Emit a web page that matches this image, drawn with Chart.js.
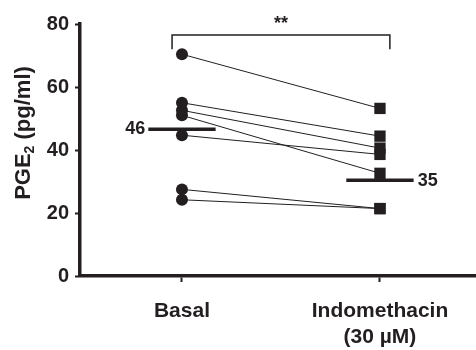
<!DOCTYPE html>
<html>
<head>
<meta charset="utf-8">
<script src="https://cdn.jsdelivr.net/npm/chart.js@4.4.1/dist/chart.umd.min.js"></script>
<style>
  html, body { margin: 0; padding: 0; background: #fff; }
  #wrap { position: relative; width: 476px; height: 350px; }
</style>
</head>
<body>
<div id="wrap"><canvas id="chart"></canvas></div>
<script>
/* ── data ── */
var categories = [['Basal'], ['Indomethacin', '(30 \u00b5M)']];
var basalValues = [70.4, 55.0, 52.6, 51.0, 44.7, 27.5, 24.2];
var indoValues  = [53.2, 44.4, 40.6, 32.6, 38.6, 21.4, 21.4];
var meanValues  = [46.6, 30.4];          // where the mean bars sit
var meanLabels  = ['46', '35'];          // printed numbers
var yTicks      = [0, 20, 40, 60, 80];
var sigLabel    = '**';
var sigBracket  = [76.5, 72];            // bracket top, leg end (data units)

var INK = '#231f20';
var FONT = '"Liberation Sans", Arial, Helvetica, sans-serif';

/* one dataset per paired sample */
var datasets = basalValues.map(function(b, i){
  return {
    data: [{x: 0, y: b}, {x: 1, y: indoValues[i]}],
    showLine: true,
    borderColor: INK,
    borderWidth: 1,
    backgroundColor: INK,
    pointBackgroundColor: INK,
    pointBorderWidth: 0,
    pointStyle: ['circle', 'rect'],
    pointRadius: [6, 8],
    order: 1
  };
});

/* mean bars */
var HALF = 0.17;
meanValues.forEach(function(m, i){
  datasets.push({
    data: [{x: i - HALF, y: m}, {x: i + HALF, y: m}],
    showLine: true,
    borderColor: INK,
    borderWidth: 3.5,
    pointRadius: 0,
    order: 2
  });
});

var annotate = {
  id: 'annotate',
  afterDatasetsDraw: function(chart){
    var ctx = chart.ctx, xs = chart.scales.x, ys = chart.scales.y;
    ctx.save();
    ctx.fillStyle = INK;
    ctx.strokeStyle = INK;

    // mean labels
    ctx.font = 'bold 18px ' + FONT;
    ctx.textBaseline = 'middle';
    ctx.textAlign = 'right';
    ctx.fillText(meanLabels[0], xs.getPixelForValue(0 - HALF) - 3, ys.getPixelForValue(meanValues[0]));
    ctx.textAlign = 'left';
    ctx.fillText(meanLabels[1], xs.getPixelForValue(1 + HALF) + 4, ys.getPixelForValue(meanValues[1]) + 1);

    // significance bracket
    var x0 = xs.getPixelForValue(-0.05), x1 = xs.getPixelForValue(1.05);
    var yt = ys.getPixelForValue(sigBracket[0]), yl = ys.getPixelForValue(sigBracket[1]);
    ctx.lineWidth = 1.5;
    ctx.beginPath();
    ctx.moveTo(x0, yl); ctx.lineTo(x0, yt); ctx.lineTo(x1, yt); ctx.lineTo(x1, yl);
    ctx.stroke();
    ctx.font = 'bold 18px ' + FONT;
    ctx.textAlign = 'center';
    ctx.textBaseline = 'middle';
    ctx.fillText(sigLabel, (x0 + x1) / 2, yt - 11);

    // y axis title with subscript
    ctx.translate(24, 133);
    ctx.rotate(-Math.PI / 2);
    ctx.textBaseline = 'middle';
    ctx.textAlign = 'left';
    var big = 'bold 22px ' + FONT, small = 'bold 14px ' + FONT;
    ctx.font = big;
    var w1 = ctx.measureText('PGE').width;
    ctx.font = small;
    var w2 = ctx.measureText('2').width;
    ctx.font = big;
    var w3 = ctx.measureText(' (pg/ml)').width;
    var sx = -(w1 + w2 + w3) / 2;
    ctx.fillText('PGE', sx, 0);
    ctx.font = small;
    ctx.fillText('2', sx + w1, 6);
    ctx.font = big;
    ctx.fillText(' (pg/ml)', sx + w1 + w2, 0);
    ctx.restore();
  }
};

new Chart(document.getElementById('chart'), {
  type: 'scatter',
  data: { datasets: datasets },
  options: {
    responsive: true,
    maintainAspectRatio: false,
    animation: false,
    layout: { autoPadding: false, padding: { top: 24, right: 0, bottom: 0, left: 0 } },
    plugins: { legend: { display: false }, tooltip: { enabled: false } },
    scales: {
      x: {
        type: 'linear',
        min: -0.515,
        max: 1.485,
        afterBuildTicks: function(s){ s.ticks = [{value: 0}, {value: 1}]; },
        afterFit: function(s){ s.height = 74; s.paddingLeft = 0; s.paddingRight = 0; },
        ticks: {
          color: INK,
          font: { family: FONT, size: 21, weight: 'bold' },
          padding: 17,
          callback: function(v){ return categories[v]; }
        },
        grid: { drawOnChartArea: false, drawTicks: true, tickLength: 6, tickWidth: 2, tickColor: INK },
        border: { display: true, width: 3.5, color: INK }
      },
      y: {
        min: 0,
        max: 80,
        afterBuildTicks: function(s){ s.ticks = yTicks.map(function(v){ return {value: v}; }); },
        afterFit: function(s){ s.width = 80; },
        ticks: {
          color: INK,
          font: { family: FONT, size: 20, weight: 'bold' },
          padding: 6
        },
        grid: { drawOnChartArea: false, drawTicks: true, tickLength: 5, tickWidth: 2, tickColor: INK },
        border: { display: true, width: 3.5, color: INK }
      }
    }
  },
  plugins: [annotate]
});
</script>
</body>
</html>
